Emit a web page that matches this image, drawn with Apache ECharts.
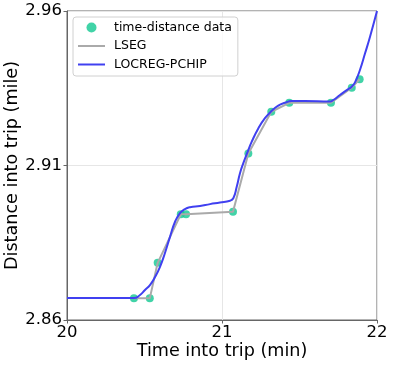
<!DOCTYPE html>
<html>
<head>
<meta charset="utf-8">
<script src="https://cdn.jsdelivr.net/npm/echarts@6/dist/echarts.min.js"></script>
<style>
  html, body { margin: 0; padding: 0; background: #fff; }
  #chart { width: 393px; height: 366px; }
</style>
</head>
<body>
<div id="chart"></div>
<script>
// time-distance data (min, mile)
const dataTime = [20.432, 20.534, 20.585, 20.734, 20.768, 21.071, 21.170, 21.318, 21.434, 21.703, 21.837, 21.888]
const dataDist = [2.8670, 2.8670, 2.8785, 2.8942, 2.8942, 2.8950, 2.9139, 2.9274, 2.9303, 2.9303, 2.9352, 2.9379]

// LOCREG-PCHIP curve
const curveTime = [20.0, 20.432, 20.471, 20.503, 20.535, 20.568, 20.600, 20.632, 20.665, 20.697, 20.729, 20.761,
  20.794, 20.858, 20.923, 20.987, 21.052, 21.073, 21.095, 21.116, 21.137, 21.166, 21.192, 21.234, 21.277,
  21.321, 21.363, 21.406, 21.450, 21.535, 21.697, 21.718, 21.761, 21.805, 21.837, 21.858, 21.890, 21.923,
  21.955, 22.0]
const curveDist = [2.8671, 2.8671, 2.8681, 2.8697, 2.8713, 2.8739, 2.8772, 2.8817, 2.8870, 2.8918, 2.8946, 2.8959,
  2.8965, 2.8969, 2.8975, 2.8980, 2.8986, 2.8994, 2.9031, 2.9075, 2.9107, 2.9145, 2.9177, 2.9220, 2.9253,
  2.9277, 2.9294, 2.9303, 2.9309, 2.9309, 2.9307, 2.9312, 2.9328, 2.9344, 2.9355, 2.9369, 2.9409, 2.9463,
  2.9517, 2.9600]

const xTicks = [20, 21, 22]
const yTicks = [2.86, 2.91, 2.96]

const font = 'DejaVu Sans'
const zip = (a, b) => a.map((v, i) => [v, b[i]])

const myChart = echarts.init(document.getElementById('chart'))
const option = {
  animation: false,
  grid: {
    left: 67,
    right: 16,
    top: 11,
    bottom: 46,
    containLabel: false,
    outerBoundsMode: 'none',
    show: true,
    borderColor: '#666',
    borderWidth: 1,
  },
  legend: {
    orient: 'vertical',
    left: 73,
    top: 17,
    padding: [4, 6, 5, 4],
    itemWidth: 27,
    itemHeight: 10,
    itemGap: 5.5,
    backgroundColor: 'rgba(255,255,255,0.8)',
    borderColor: '#d0d0d0',
    borderWidth: 1,
    borderRadius: 3,
    textStyle: {
      fontFamily: font,
      fontSize: 12.5,
      color: '#000',
      padding: [0, 0, 0, 4],
    },
    data: [
      {name: 'time-distance data', icon: 'circle'},
      {name: 'LSEG', itemStyle: {opacity: 0}, lineStyle: {width: 2}},
      {name: 'LOCREG-PCHIP', itemStyle: {opacity: 0}, lineStyle: {width: 2}},
    ],
  },
  xAxis: {
    type: 'value',
    min: xTicks[0],
    max: xTicks[xTicks.length - 1],
    interval: 1,
    name: 'Time into trip (min)',
    nameLocation: 'middle',
    nameGap: 22,
    nameMoveOverlap: false,
    nameTextStyle: {fontFamily: font, fontSize: 17.6, color: '#000'},
    axisLine: {show: true, lineStyle: {color: '#666', width: 1}},
    axisTick: {show: true, length: 3.5, lineStyle: {color: '#666'}},
    axisLabel: {fontFamily: font, fontSize: 16.5, color: '#000', margin: 4},
    splitLine: {show: true, lineStyle: {color: '#e6e6e6', width: 1}},
  },
  yAxis: {
    type: 'value',
    min: yTicks[0],
    max: yTicks[yTicks.length - 1],
    interval: 0.05,
    name: 'Distance into trip (mile)',
    nameLocation: 'middle',
    nameGap: 46,
    nameMoveOverlap: false,
    nameTextStyle: {fontFamily: font, fontSize: 17.6, color: '#000'},
    axisLine: {show: true, lineStyle: {color: '#666', width: 1}},
    axisTick: {show: true, length: 3.5, lineStyle: {color: '#666'}},
    axisLabel: {
      fontFamily: font,
      fontSize: 16.5,
      color: '#000',
      margin: 5,
      formatter: (v) => v.toFixed(2),
    },
    splitLine: {show: true, lineStyle: {color: '#e6e6e6', width: 1}},
  },
  series: [
    {
      name: 'time-distance data',
      type: 'scatter',
      symbolSize: 8,
      itemStyle: {color: '#12c891'},
      data: zip(dataTime, dataDist),
      z: 1,
    },
    {
      name: 'LSEG',
      type: 'line',
      symbol: 'none',
      lineStyle: {color: '#aaaaaa', width: 2},
      itemStyle: {color: '#aaaaaa'},
      data: zip(dataTime, dataDist),
      z: 2,
    },
    {
      name: 'LOCREG-PCHIP',
      type: 'line',
      symbol: 'none',
      smooth: 0.5,
      lineStyle: {color: '#4040f0', width: 2},
      itemStyle: {color: '#4040f0'},
      data: zip(curveTime, curveDist),
      z: 3,
    },
  ],
}
myChart.setOption(option)
</script>
</body>
</html>
